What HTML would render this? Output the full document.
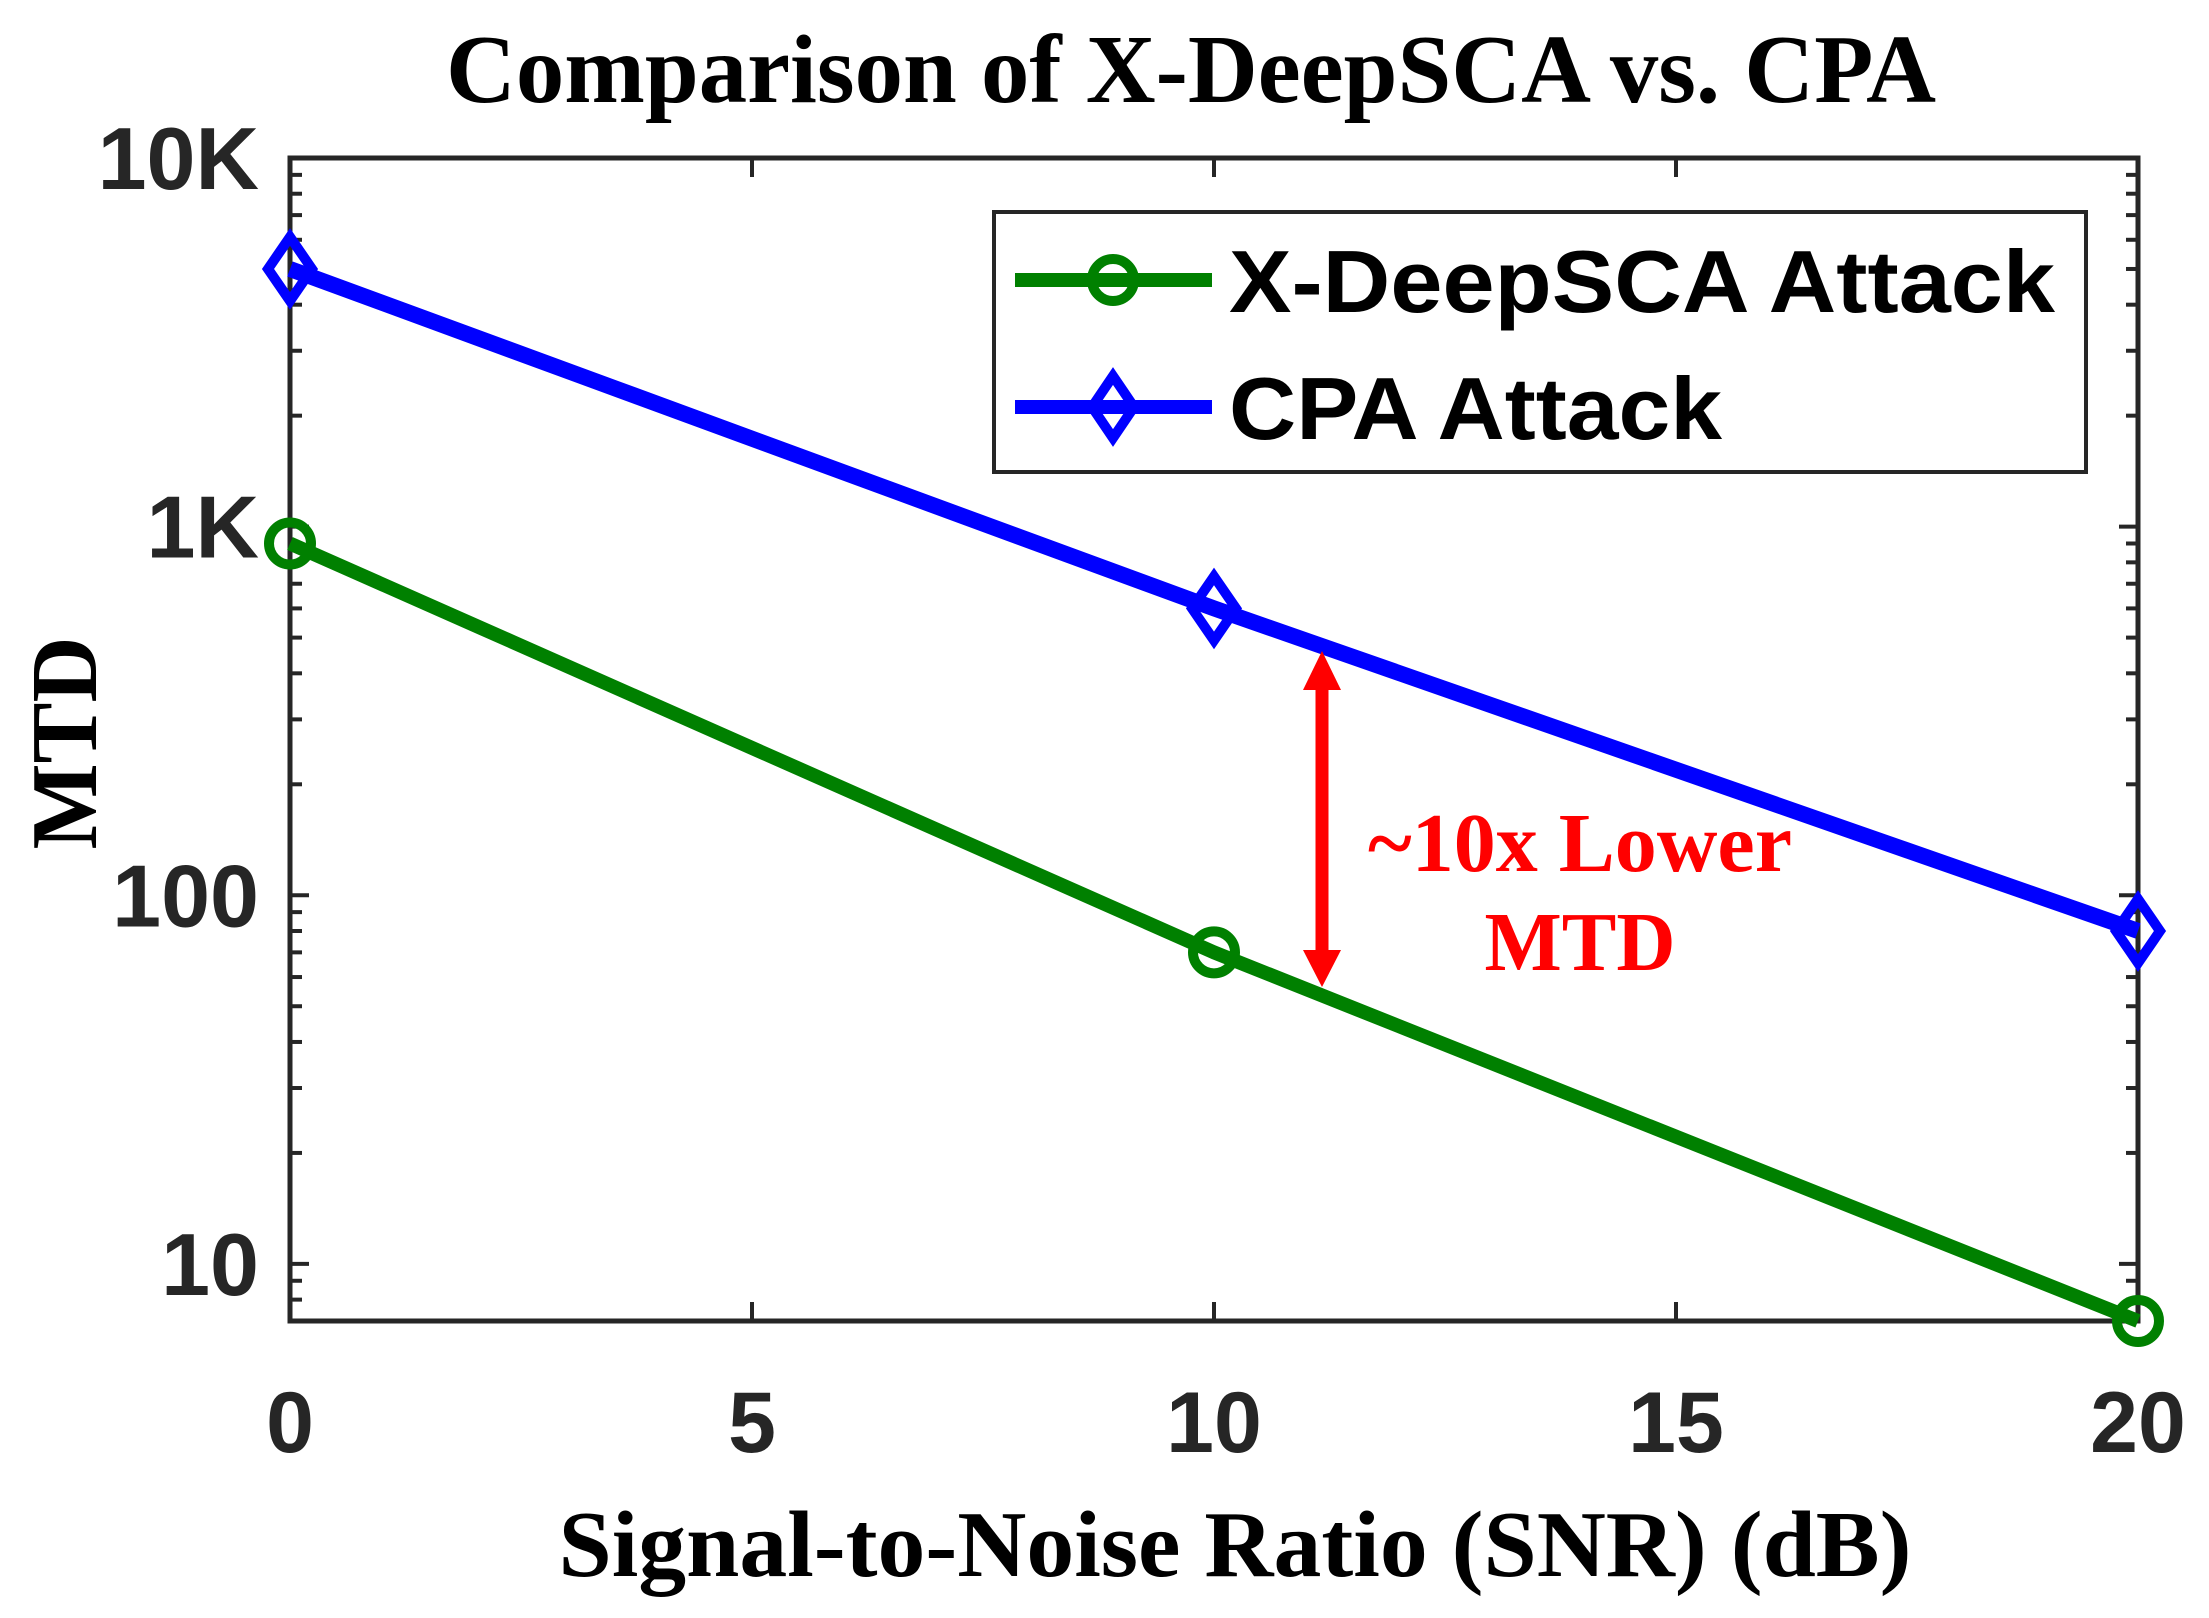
<!DOCTYPE html>
<html><head><meta charset="utf-8"><style>html,body{margin:0;padding:0;background:#fff}svg{display:block}</style></head>
<body>
<svg id="chart" width="2209" height="1618" viewBox="0 0 2209 1618" xmlns="http://www.w3.org/2000/svg">
<rect width="2209" height="1618" fill="#fff"/>
<text x="1191" y="102" text-anchor="middle" font-family="Liberation Serif, serif" font-weight="bold" font-size="98" textLength="1490" lengthAdjust="spacingAndGlyphs">Comparison of X-DeepSCA vs. CPA</text>
<text x="1235" y="1576" text-anchor="middle" font-family="Liberation Serif, serif" font-weight="bold" font-size="94" textLength="1353" lengthAdjust="spacingAndGlyphs">Signal-to-Noise Ratio (SNR) (dB)</text>
<text transform="translate(96,743) rotate(-90)" text-anchor="middle" font-family="Liberation Serif, serif" font-weight="bold" font-size="94" textLength="213" lengthAdjust="spacingAndGlyphs">MTD</text>
<g id="axes"></g>
<g id="series"></g>
<g>
<line x1="1322" y1="690" x2="1322" y2="950" stroke="#ff0000" stroke-width="13"/>
<polygon points="1322,651 1303,690 1341,690" fill="#ff0000"/>
<polygon points="1322,987 1303,950 1341,950" fill="#ff0000"/>
<text x="1580" y="871" text-anchor="middle" fill="#ff0000" font-family="Liberation Serif, serif" font-weight="bold" font-size="84" textLength="424" lengthAdjust="spacingAndGlyphs">~10x Lower</text>
<text x="1580" y="970" text-anchor="middle" fill="#ff0000" font-family="Liberation Serif, serif" font-weight="bold" font-size="84" textLength="191" lengthAdjust="spacingAndGlyphs">MTD</text>
</g>
<g>
<rect x="994" y="212" width="1092" height="260" fill="#fff" stroke="#262626" stroke-width="4"/>
<line x1="1015" y1="280" x2="1212" y2="280" stroke="#008000" stroke-width="14"/>
<circle cx="1113" cy="280" r="21" fill="none" stroke="#008000" stroke-width="10"/>
<text x="1229" y="312" font-family="Liberation Sans, sans-serif" font-weight="bold" font-size="88" textLength="826" lengthAdjust="spacingAndGlyphs">X-DeepSCA Attack</text>
<line x1="1015" y1="407" x2="1212" y2="407" stroke="#0000ff" stroke-width="14"/>
<polygon points="1113,376 1134,407 1113,438 1092,407" fill="none" stroke="#0000ff" stroke-width="10"/>
<text x="1229" y="439" font-family="Liberation Sans, sans-serif" font-weight="bold" font-size="88" textLength="493" lengthAdjust="spacingAndGlyphs">CPA Attack</text>
</g>
</svg>
<script>
const snr = [0, 10, 20];
const xdeep = [900, 70, 7];
const cpa = [5000, 600, 80];
const xTicks = [0, 5, 10, 15, 20];
const yTicks = [10, 100, 1000, 10000];
const yTickLabels = ['10', '100', '1K', '10K'];

const NS = 'http://www.w3.org/2000/svg';
const L = 290, R = 2138, T = 158, B = 1321;
const yMin = 7, yMax = 10000;
function xs(v){ return L + (v - 0) / 20 * (R - L); }
function ys(v){ return B - (Math.log10(v) - Math.log10(yMin)) / (Math.log10(yMax) - Math.log10(yMin)) * (B - T); }
function mk(tag, attrs, parent){ const e = document.createElementNS(NS, tag); for (const k in attrs) e.setAttribute(k, attrs[k]); parent.appendChild(e); return e; }

const axes = document.getElementById('axes');
const frame = mk('rect', {x:L, y:T, width:R-L, height:B-T, fill:'none', stroke:'#262626', 'stroke-width':5}, axes);


xTicks.forEach(t => {
  const x = xs(t);
  mk('line', {x1:x, y1:B, x2:x, y2:B-19, stroke:'#262626', 'stroke-width':4}, axes);
  mk('line', {x1:x, y1:T, x2:x, y2:T+19, stroke:'#262626', 'stroke-width':4}, axes);
  const lb = mk('text', {x:x, y:1452, 'text-anchor':'middle', 'font-family':'Liberation Sans, sans-serif', 'font-weight':'bold', 'font-size':86, fill:'#262626'}, axes);
  lb.textContent = t;
  
  
});
for (let d = 1; d <= 4; d++) {
  for (let m = 1; m <= 9; m++) {
    const v = m * Math.pow(10, d);
    if (v < yMin || v > yMax) continue;
    const y = ys(v); const len = m === 1 ? 19 : 12;
    mk('line', {x1:L, y1:y, x2:L+len, y2:y, stroke:'#262626', 'stroke-width':4}, axes);
    mk('line', {x1:R, y1:y, x2:R-len, y2:y, stroke:'#262626', 'stroke-width':4}, axes);
  }
}
for (let m = 7; m <= 9; m++) {
  const y = ys(m);
  mk('line', {x1:L, y1:y, x2:L+12, y2:y, stroke:'#262626', 'stroke-width':4}, axes);
  mk('line', {x1:R, y1:y, x2:R-12, y2:y, stroke:'#262626', 'stroke-width':4}, axes);
}
yTicks.forEach((t, i) => {
  const lb = mk('text', {x:259, y:ys(t)+31, 'text-anchor':'end', 'font-family':'Liberation Sans, sans-serif', 'font-weight':'bold', 'font-size':88, fill:'#262626'}, axes);
  lb.textContent = yTickLabels[i];
  
  
});

const series = document.getElementById('series');
function drawSeries(vals, color, width, marker, name){
  const g = mk('g', {}, series);
  
  
  const pts = snr.map((s, i) => xs(s) + ',' + ys(vals[i])).join(' ');
  mk('polyline', {points:pts, fill:'none', stroke:color, 'stroke-width':width, 'stroke-linejoin':'round'}, g);
  snr.forEach((s, i) => {
    const x = xs(s), y = ys(vals[i]);
    let m;
    if (marker === 'circle') m = mk('circle', {cx:x, cy:y, r:21, fill:'none', stroke:color, 'stroke-width':10}, g);
    else m = mk('polygon', {points:`${x},${y-32} ${x+22},${y} ${x},${y+32} ${x-22},${y}`, fill:'none', stroke:color, 'stroke-width':10}, g);
    
    
  });
}
drawSeries(cpa, '#0000ff', 16, 'diamond', 'cpa-series');
drawSeries(xdeep, '#008000', 14, 'circle', 'x-deepsca-series');
</script>
</body></html>
